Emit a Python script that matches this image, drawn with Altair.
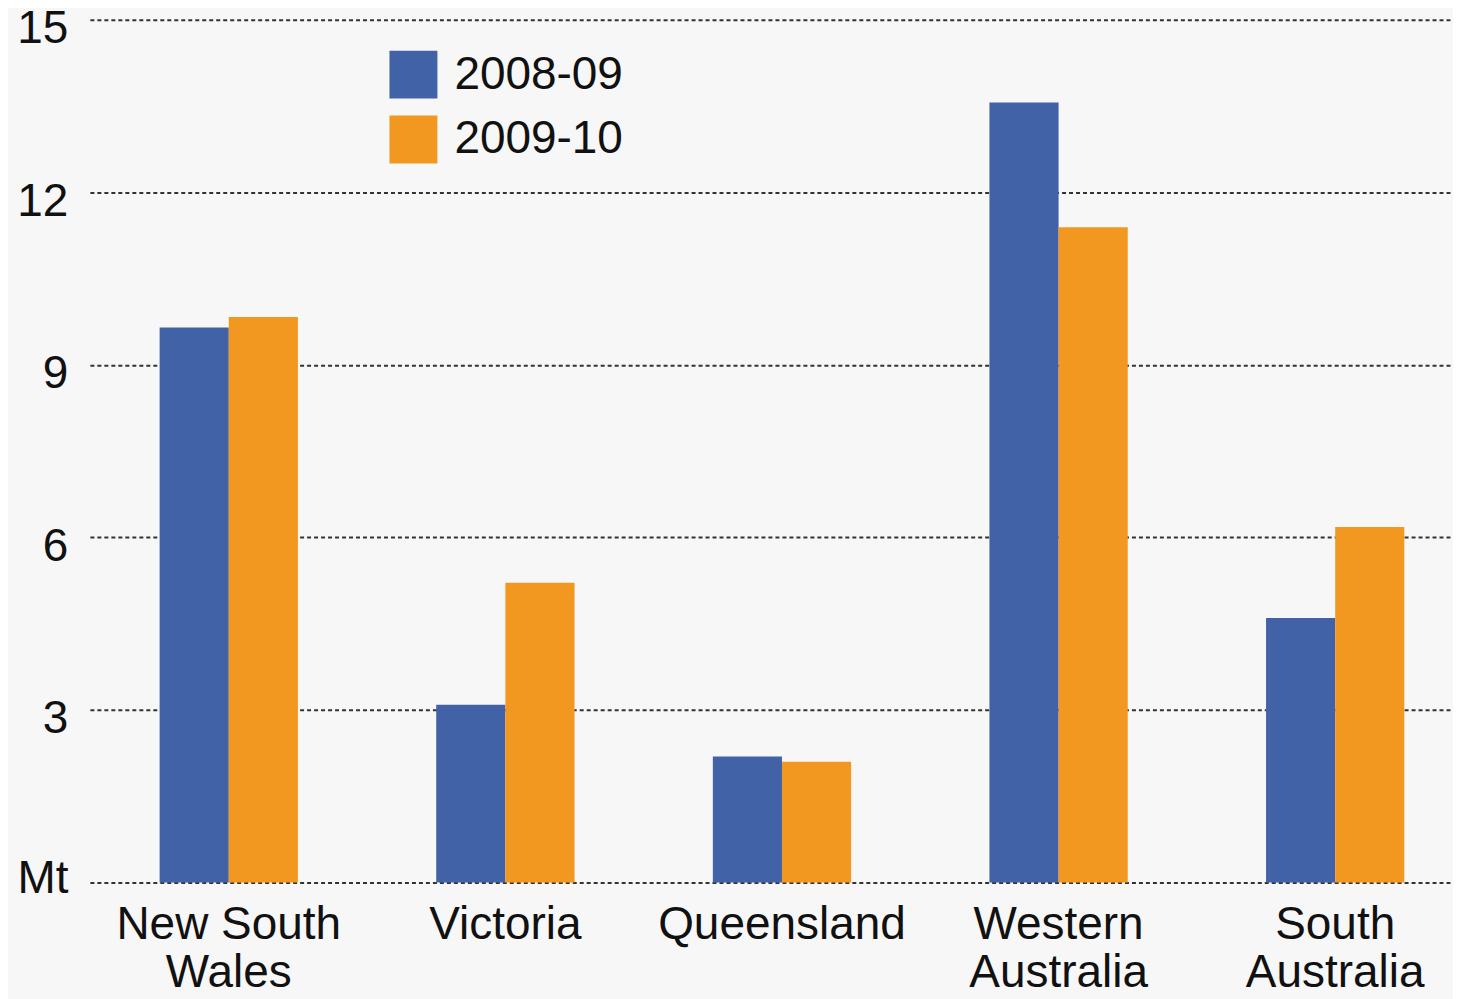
import altair as alt
import pandas as pd

states = ["New South\nWales", "Victoria", "Queensland", "Western\nAustralia", "South\nAustralia"]
years = ["2008-09", "2009-10"]
values_2008 = [9.65, 3.09, 2.19, 13.56, 4.60]
values_2009 = [9.83, 5.21, 2.10, 11.39, 6.18]
colors = ["#4262a7", "#f2971f"]

rows = []
for s, a, b in zip(states, values_2008, values_2009):
    rows.append({"state": s, "year": years[0], "value": a})
    rows.append({"state": s, "year": years[1], "value": b})
df = pd.DataFrame(rows)

FONT = "Liberation Sans"

chart = alt.Chart(df).mark_bar().encode(
    x=alt.X("state:N", sort=states, title=None,
            scale=alt.Scale(paddingInner=0.5, paddingOuter=0.214, align=0.589),
            axis=alt.Axis(labelAngle=0, labelExpr="split(datum.value, '\\n')",
                          labelFontSize=46, labelFont=FONT, labelColor="#111",
                          labelPadding=20, labelLineHeight=48, labelBaseline="top",
                          labelLimit=0, ticks=False, domain=False, grid=False)),
    xOffset=alt.XOffset("year:N", sort=years,
                        scale=alt.Scale(paddingInner=0, paddingOuter=0)),
    y=alt.Y("value:Q", title=None,
            scale=alt.Scale(domain=[0, 15], nice=False),
            axis=alt.Axis(values=[0, 3, 6, 9, 12, 15],
                          labelExpr="datum.value == 0 ? 'Mt' : datum.label",
                          labelFontSize=46, labelFont=FONT, labelColor="#111",
                          labelPadding=22, labelBaseline="middle", labelLimit=0,
                          labelOffset={"condition": {"test": "datum.value == 0", "value": -4}, "value": 9},
                          ticks=False, domain=False,
                          grid=True, gridDash=[4, 3], gridWidth=2, gridColor="#333")),
    color=alt.Color("year:N", sort=years,
                    scale=alt.Scale(domain=years, range=colors),
                    legend=alt.Legend(title=None, orient="none", legendX=300, legendY=31,
                                      symbolType="square", symbolSize=2304,
                                      symbolStrokeWidth=0, labelFontSize=46,
                                      labelFont=FONT, labelColor="#111", labelLimit=0,
                                      labelOffset=17, rowPadding=17, padding=0)),
).properties(
    width=1365, height=864,
    background="#f7f7f7",
    padding={"left": 82, "top": 11, "right": 0, "bottom": 116},
    autosize=alt.AutoSizeParams(type="none"),
).configure_view(stroke=None)

chart.save("out.html", embed_options={"renderer": "svg", "actions": False})
